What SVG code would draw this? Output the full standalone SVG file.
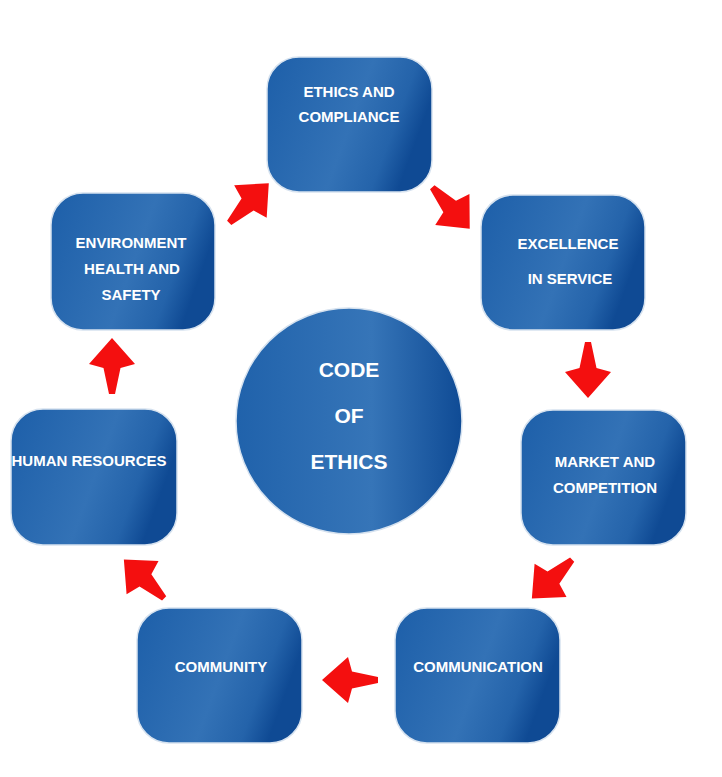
<svg xmlns="http://www.w3.org/2000/svg" width="722" height="777" viewBox="0 0 722 777">
<defs>
<linearGradient id="g" x1="0" y1="0" x2="1" y2="0.3">
<stop offset="0" stop-color="#1d5fa9"/>
<stop offset="0.6" stop-color="#3372b6"/>
<stop offset="0.85" stop-color="#2463aa"/>
<stop offset="1" stop-color="#0f4a94"/>
</linearGradient>
<linearGradient id="gc" x1="0" y1="0" x2="1" y2="0">
<stop offset="0" stop-color="#2062ab"/>
<stop offset="0.6" stop-color="#3675b8"/>
<stop offset="1" stop-color="#0f4b95"/>
</linearGradient>
<path id="arr" d="M-28,-3 L-2,-8.5 L2,-23 L28,0 L2,23 L-2,8.5 L-28,3 Z"/>
</defs>
<style>
.box{fill:url(#g);stroke:#d6e2ef;stroke-width:1.5}
.t{font-family:"Liberation Sans",Arial,sans-serif;font-weight:bold;font-size:15px;fill:#ffffff;text-anchor:middle}
.tb{font-family:"Liberation Sans",Arial,sans-serif;font-weight:bold;font-size:21px;fill:#ffffff;text-anchor:middle}
.a{fill:#f40f0f}
</style>
<rect width="722" height="777" fill="#ffffff"/>
<g id="center">
<circle cx="349" cy="421" r="113" fill="url(#gc)" stroke="#d6e2ef" stroke-width="1.5"/>
<text class="tb" x="349" y="377">CODE</text>
<text class="tb" x="349" y="423">OF</text>
<text class="tb" x="349" y="469">ETHICS</text>
</g>
<g id="ethics">
<rect class="box" x="267" y="57" width="165" height="135" rx="32"/>
<text class="t" x="349" y="97">ETHICS AND</text>
<text class="t" x="349" y="122">COMPLIANCE</text>
</g>
<g id="excellence">
<rect class="box" x="481" y="195" width="164" height="135" rx="32"/>
<text class="t" x="568" y="249">EXCELLENCE</text>
<text class="t" x="570" y="284">IN SERVICE</text>
</g>
<g id="market">
<rect class="box" x="521" y="410" width="165" height="135" rx="32"/>
<text class="t" x="605" y="467">MARKET AND</text>
<text class="t" x="605" y="493">COMPETITION</text>
</g>
<g id="communication">
<rect class="box" x="395" y="608" width="165" height="135" rx="32"/>
<text class="t" x="478" y="672">COMMUNICATION</text>
</g>
<g id="community">
<rect class="box" x="137" y="608" width="165" height="135" rx="32"/>
<text class="t" x="221" y="672">COMMUNITY</text>
</g>
<g id="human">
<rect class="box" x="11" y="409" width="166" height="136" rx="32"/>
<text class="t" x="89" y="466">HUMAN RESOURCES</text>
</g>
<g id="environment">
<rect class="box" x="51" y="193" width="164" height="137" rx="32"/>
<text class="t" x="131" y="248">ENVIRONMENT</text>
<text class="t" x="132" y="274">HEALTH AND</text>
<text class="t" x="131" y="300">SAFETY</text>
</g>
<g id="connectors">
<use href="#arr" class="a" transform="translate(249,203) rotate(-45)"/>
<use href="#arr" class="a" transform="translate(451,208) rotate(48)"/>
<use href="#arr" class="a" transform="translate(588,370) rotate(90)"/>
<use href="#arr" class="a" transform="translate(552,579) rotate(136)"/>
<use href="#arr" class="a" transform="translate(350,680) rotate(180)"/>
<use href="#arr" class="a" transform="translate(144,579) rotate(224)"/>
<use href="#arr" class="a" transform="translate(112,366) rotate(-90)"/>
</g>
</svg>
